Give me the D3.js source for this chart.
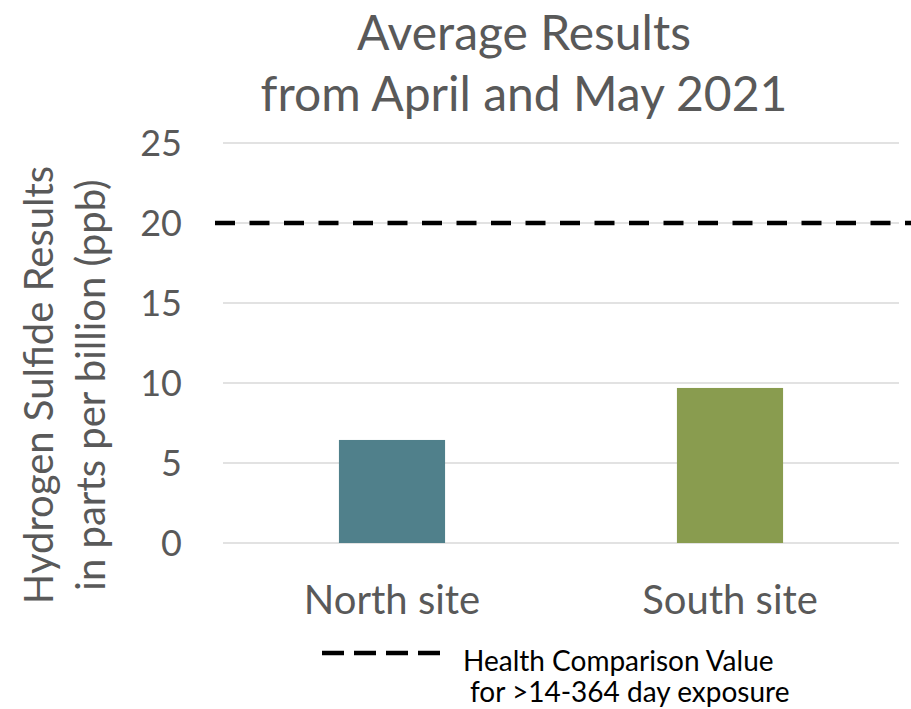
<!DOCTYPE html>
<html>
<head>
<meta charset="utf-8">
<script src="https://cdn.jsdelivr.net/npm/d3@7"></script>
<style>
  body { margin: 0; background: #fff; }
  text { font-family: Lato, "Open Sans", sans-serif; }
</style>
</head>
<body>
<svg id="chart" width="911" height="709"></svg>
<script>
// data
var sites = ["North site", "South site"];
var results = [6.44, 9.69];
var siteColors = ["#50808b", "#899c4f"];
var yTicks = [0, 5, 10, 15, 20, 25];
var comparisonValue = 20;
var titleLines = ["Average Results", "from April and May 2021"];
var yTitleLines = ["Hydrogen Sulfide Results", "in parts per billion (ppb)"];
var legendLines = ["Health Comparison Value", "for >14-364 day exposure"];

var svg = d3.select("#chart"),
    width = +svg.attr("width"),
    height = +svg.attr("height");

var margin = {left: 223, right: 12, top: 143, bottom: 166};

var x = d3.scaleBand()
    .domain(sites)
    .range([margin.left, width - margin.right])
    .paddingInner(0.686)
    .paddingOuter(0.343);

var y = d3.scaleLinear()
    .domain([0, 25])
    .range([height - margin.bottom, margin.top]);

// gridlines
svg.append("g")
  .selectAll("line")
  .data(yTicks)
  .enter().append("line")
    .attr("x1", margin.left)
    .attr("x2", width - margin.right)
    .attr("y1", function(d) { return y(d); })
    .attr("y2", function(d) { return y(d); })
    .attr("stroke", "#d9d9d9")
    .attr("stroke-width", 1.5);

// y tick labels
svg.append("g")
  .selectAll("text")
  .data(yTicks)
  .enter().append("text")
    .attr("x", 182)
    .attr("y", function(d) { return y(d); })
    .attr("dy", "0.35em")
    .attr("text-anchor", "end")
    .attr("fill", "#595959")
    .style("font-size", "36px")
    .text(function(d) { return d; });

// bars
svg.append("g")
  .selectAll("rect")
  .data(results)
  .enter().append("rect")
    .attr("x", function(d, i) { return x(sites[i]); })
    .attr("width", x.bandwidth())
    .attr("y", function(d) { return y(d); })
    .attr("height", function(d) { return y(0) - y(d); })
    .attr("fill", function(d, i) { return siteColors[i]; });

// category labels
svg.append("g")
  .selectAll("text")
  .data(sites)
  .enter().append("text")
    .attr("x", function(d) { return x(d) + x.bandwidth() / 2; })
    .attr("y", 614)
    .attr("text-anchor", "middle")
    .attr("fill", "#595959")
    .style("font-size", "40px")
    .text(function(d) { return d; });

// comparison value line
svg.append("line")
    .attr("x1", 215)
    .attr("x2", width)
    .attr("y1", y(comparisonValue))
    .attr("y2", y(comparisonValue))
    .attr("stroke", "#000")
    .attr("stroke-width", 4.5)
    .attr("stroke-dasharray", "20,14.5");

// title
svg.append("g")
  .selectAll("text")
  .data(titleLines)
  .enter().append("text")
    .attr("x", 524)
    .attr("y", function(d, i) { return 50 + i * 61; })
    .attr("text-anchor", "middle")
    .attr("fill", "#595959")
    .style("font-size", "48px")
    .text(function(d) { return d; });

// y axis title
svg.append("g")
  .selectAll("text")
  .data(yTitleLines)
  .enter().append("text")
    .attr("transform", function(d, i) {
      return "translate(" + (53 + i * 52) + ",385) rotate(-90)";
    })
    .attr("text-anchor", "middle")
    .attr("fill", "#595959")
    .style("font-size", "40px")
    .text(function(d) { return d; });

// legend
svg.append("line")
    .attr("x1", 322)
    .attr("x2", 442)
    .attr("y1", 653)
    .attr("y2", 653)
    .attr("stroke", "#000")
    .attr("stroke-width", 4.5)
    .attr("stroke-dasharray", "22,10");

svg.append("g")
  .selectAll("text")
  .data(legendLines)
  .enter().append("text")
    .attr("x", function(d, i) { return i === 0 ? 463 : 470; })
    .attr("y", function(d, i) { return 671 + i * 31; })
    .attr("fill", "#000")
    .style("font-size", "28px")
    .text(function(d) { return d; });
</script>
</body>
</html>
